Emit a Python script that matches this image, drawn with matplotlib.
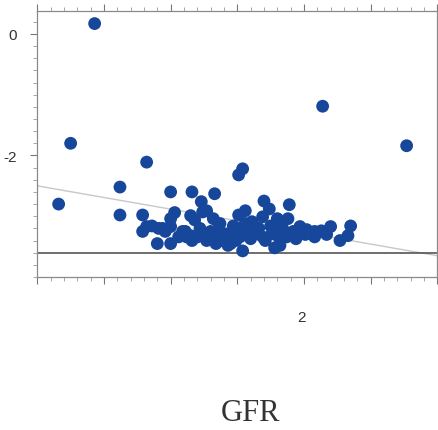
import numpy as np
import matplotlib
matplotlib.use("Agg")
import matplotlib.pyplot as plt
from matplotlib.ticker import MultipleLocator, FixedLocator

# scatter data (x, y)
x_out = [0.43, 0.25, 0.16, 0.82, 2.14, 2.77, 1.54, 1.51, 0.62, 1.00, 1.16, 1.33,
         1.23, 1.70, 1.89, 1.74]
y_out = [0.17, -1.80, -2.80, -2.11, -1.19, -1.84, -2.22, -2.32, -2.52, -2.60, -2.60, -2.63,
         -2.76, -2.75, -2.81, -2.88]

x_clu = [1.27, 0.62, 0.79, 1.03, 1.00, 1.15, 1.24, 1.18, 1.56, 1.51, 1.69, 1.80, 1.88,
         1.32, 1.37, 1.47, 1.61, 1.75, 0.79, 0.86, 0.91, 0.96, 1.00, 1.11, 1.15, 1.22,
         1.22, 1.30, 1.37, 1.16, 1.27, 1.39, 1.43, 1.45, 1.48, 1.52, 1.57, 1.62, 1.52,
         1.60, 1.54, 0.90, 1.00, 1.71, 1.78, 1.82, 1.81, 1.76, 1.84, 1.87, 1.92, 1.97,
         2.02, 2.08, 2.13, 2.20, 2.08, 2.27, 2.33, 2.35, 1.77, 1.82, 1.09, 1.12, 1.32,
         1.36, 1.42, 1.56, 1.66, 1.69, 1.94, 2.01, 2.17, 1.49, 1.34, 1.20, 1.06, 0.82,
         0.94]
y_clu = [-2.91, -2.98, -2.98, -2.94, -3.04, -2.99, -2.93, -3.06, -2.91, -2.98, -3.01, -3.04, -3.04,
         -3.04, -3.12, -3.16, -3.09, -3.16, -3.25, -3.16, -3.20, -3.25, -3.17, -3.25, -3.32, -3.29,
         -3.20, -3.25, -3.34, -3.40, -3.40, -3.40, -3.48, -3.45, -3.25, -3.20, -3.20, -3.29, -3.34,
         -3.37, -3.57, -3.45, -3.45, -3.40, -3.52, -3.48, -3.34, -3.29, -3.20, -3.34, -3.25, -3.17,
         -3.22, -3.25, -3.24, -3.17, -3.34, -3.40, -3.32, -3.16, -3.17, -3.20, -3.25, -3.34, -3.34,
         -3.20, -3.29, -3.12, -3.20, -3.34, -3.37, -3.30, -3.30, -3.40, -3.45, -3.34, -3.34, -3.17,
         -3.20]

fit_x = [0.0, 3.0]
fit_y = [-2.50, -3.65]
ref_y = -3.6

xs = x_out + x_clu
ys = y_out + y_clu

fig = plt.figure(figsize=(4.39, 4.31), dpi=100)
ax = fig.add_axes([37.3 / 439, 153 / 431, 400 / 439, 266 / 431])

ax.plot(fit_x, fit_y, color="#c8c8c8", lw=1.0, zorder=1)
ax.axhline(ref_y, color="#555555", lw=1.2, zorder=1)
ax.scatter(xs, ys, s=85, color="#17479b", edgecolors="none", zorder=3)

ax.set_xlim(0, 3)
ax.set_ylim(-4.0, 0.377)

ax.xaxis.set_major_locator(MultipleLocator(0.5))
ax.xaxis.set_minor_locator(MultipleLocator(0.1))
ax.yaxis.set_major_locator(FixedLocator([0, -2]))
ax.yaxis.set_minor_locator(MultipleLocator(0.2))

ax.set_xticklabels([])
ax.set_yticks([0, -2])
ax.set_yticklabels(["0", "-2"], fontsize=11, family="Liberation Sans", color="#333333")
ax.tick_params(axis="both", which="major", direction="out", length=5, width=0.8,
               color="#777777", top=True, right=True)
ax.tick_params(axis="both", which="minor", direction="out", length=3, width=0.6,
               color="#999999", top=True, right=True)
ax.tick_params(axis="y", pad=10)

for s in ax.spines.values():
    s.set_color("#8a8a8a")
    s.set_linewidth(0.9)

# only "2" is labelled on the x axis, far below
ax.text(2.0, -4.0, "2", transform=ax.transData, ha="center", va="center",
        fontsize=11, family="Liberation Sans", color="#333333")
ax.texts[-1].set_position((1.985, -4.0 - 40 / 61))
ax.texts[-1].set_clip_on(False)

fig.text(251 / 439, 1 - 414 / 431, "GFR", ha="center", va="center",
         fontsize=22, family="Liberation Serif", color="#333333")

fig.savefig("out.png", dpi=100)
